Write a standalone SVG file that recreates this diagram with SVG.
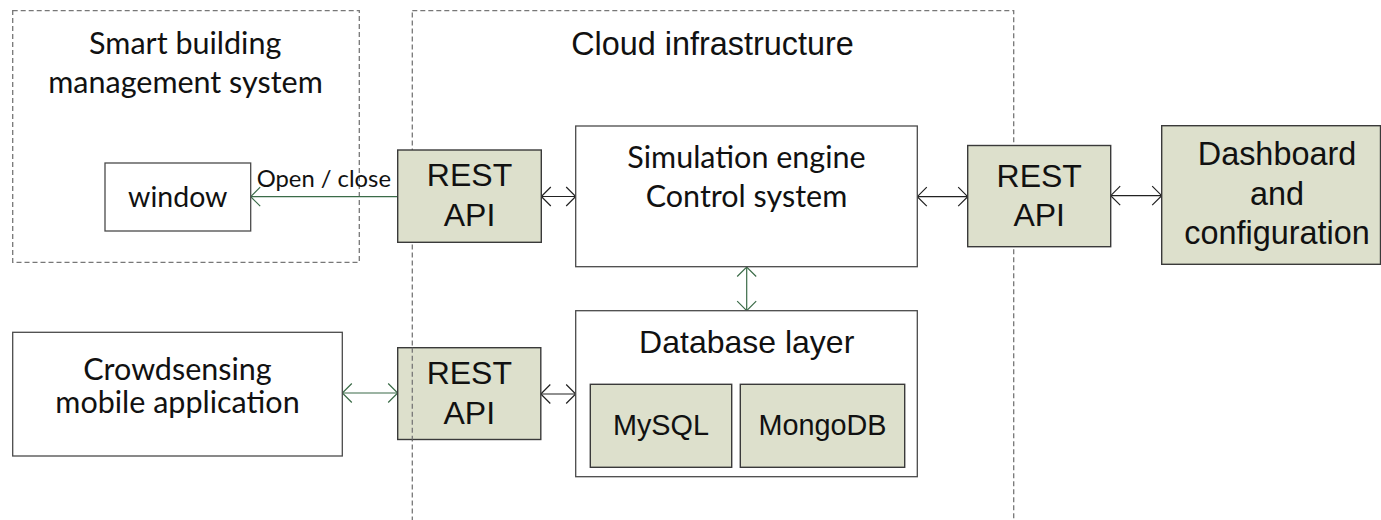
<svg xmlns="http://www.w3.org/2000/svg" width="1381" height="520" viewBox="0 0 1381 520">
  <style>
    .zone { fill: none; stroke: #777; stroke-width: 1.3; stroke-dasharray: 5 3; }
    .box { fill: #ffffff; stroke: #4a4a4a; stroke-width: 1.3; }
    .api { fill: #dde0cc; stroke: #3a3a3a; stroke-width: 1.4; }
    .cal { font-family: Lato, Carlito, "Liberation Sans", sans-serif; fill: #111; text-anchor: middle; }
    .ari { font-family: "Liberation Sans", Arial, sans-serif; fill: #111; text-anchor: middle; }
    .k { stroke: #222; stroke-width: 1.2; fill: none; }
    .g { stroke: #3b6b48; stroke-width: 1.2; fill: none; }
  </style>
  <defs>
    <marker id="chev-k" markerUnits="userSpaceOnUse" markerWidth="24" markerHeight="24" refX="0" refY="0" viewBox="-12 -12 24 24" orient="auto-start-reverse" overflow="visible">
      <path d="M-9.5,-9.5 L0,0 L-9.5,9.5" fill="none" stroke="#222" stroke-width="1.2"/>
    </marker>
    <marker id="chev-g" markerUnits="userSpaceOnUse" markerWidth="24" markerHeight="24" refX="0" refY="0" viewBox="-12 -12 24 24" orient="auto-start-reverse" overflow="visible">
      <path d="M-9.5,-9.5 L0,0 L-9.5,9.5" fill="none" stroke="#3b6b48" stroke-width="1.2"/>
    </marker>
  </defs>
  <rect width="1381" height="520" fill="#ffffff"/>

  <!-- system boundaries -->
  <g id="smart-building">
    <rect class="zone" x="12.7" y="10.7" width="346.6" height="251.6"/>
    <text class="cal" font-size="30.5" x="185.2" y="53.5">Smart building</text>
    <text class="cal" font-size="30.5" x="185.5" y="92.5">management system</text>
  </g>
  <g id="cloud">
    <rect class="zone" x="412.3" y="10.7" width="601.4" height="530"/>
    <text class="ari" font-size="32.4" x="712.5" y="55">Cloud infrastructure</text>
  </g>

  <!-- connectors -->
  <g id="connectors">
    <line class="g" x1="397.7" y1="196.7" x2="250.7" y2="196.7" marker-end="url(#chev-g)"/>
    <line class="k" x1="541.3" y1="196.5" x2="575.7" y2="196.5" marker-start="url(#chev-k)" marker-end="url(#chev-k)"/>
    <line class="k" x1="917.3" y1="196.7" x2="967.7" y2="196.7" marker-start="url(#chev-k)" marker-end="url(#chev-k)"/>
    <line class="k" x1="1110.7" y1="195.7" x2="1161.7" y2="195.7" marker-start="url(#chev-k)" marker-end="url(#chev-k)"/>
    <line class="g" x1="746.7" y1="267" x2="746.7" y2="310.7" marker-start="url(#chev-g)" marker-end="url(#chev-g)"/>
    <line class="g" x1="342.3" y1="393" x2="397.7" y2="393" marker-start="url(#chev-g)" marker-end="url(#chev-g)"/>
    <line class="k" x1="540.8" y1="394" x2="575.7" y2="394" marker-start="url(#chev-k)" marker-end="url(#chev-k)"/>
  </g>

  <g id="window">
    <rect class="box" x="105" y="163" width="145.7" height="68"/>
    <text class="cal" font-size="28.5" x="177.8" y="207">window</text>
  </g>
  <text class="cal" font-size="23.8" x="256.7" y="186.7" style="text-anchor:start">Open / close</text>

  <g id="rest-api-building">
    <rect class="api" x="397.7" y="150" width="143.6" height="92.3"/>
    <text class="ari" font-size="32" x="469.5" y="186">REST</text>
    <text class="ari" font-size="32" x="469.5" y="226">API</text>
  </g>

  <g id="simulation-engine">
    <rect class="box" x="575.7" y="126" width="341.6" height="140.7"/>
    <text class="cal" font-size="30.5" x="746.5" y="167.5">Simulation engine</text>
    <text class="cal" font-size="30.5" x="746.5" y="207">Control system</text>
  </g>

  <g id="rest-api-dashboard">
    <rect class="api" x="967.7" y="145.5" width="143" height="101.2"/>
    <text class="ari" font-size="32" x="1039.2" y="187.3">REST</text>
    <text class="ari" font-size="32" x="1039.2" y="226">API</text>
  </g>

  <g id="dashboard">
    <rect class="api" x="1161.7" y="125.7" width="218.8" height="138.6"/>
    <text class="ari" font-size="32.4" x="1277" y="165">Dashboard</text>
    <text class="ari" font-size="32.4" x="1277" y="204.5">and</text>
    <text class="ari" font-size="32.4" x="1277" y="243.5">configuration</text>
  </g>

  <g id="crowdsensing-app">
    <rect class="box" x="12.7" y="332.3" width="329.6" height="123.7"/>
    <text class="cal" font-size="30.5" x="177.5" y="379.5">Crowdsensing</text>
    <text class="cal" font-size="30.5" x="177.5" y="412.5">mobile application</text>
  </g>

  <g id="rest-api-mobile">
    <rect class="api" x="397.7" y="347.7" width="143.1" height="91.8"/>
    <!-- boundary line stays visible across this box -->
    <line class="zone" x1="412.3" y1="347.7" x2="412.3" y2="439.5"/>
    <text class="ari" font-size="32" x="469.3" y="384">REST</text>
    <text class="ari" font-size="32" x="469.3" y="424">API</text>
  </g>

  <g id="database-layer">
    <rect class="box" x="575.7" y="310.7" width="341.6" height="166" stroke="#666"/>
    <text class="ari" font-size="32" x="746.7" y="353">Database layer</text>
  </g>
  <g id="mysql">
    <rect class="api" x="590.3" y="384.3" width="141.4" height="83"/>
    <text class="ari" font-size="28.8" x="661" y="435.3">MySQL</text>
  </g>
  <g id="mongodb">
    <rect class="api" x="740.3" y="384.3" width="164.4" height="83"/>
    <text class="ari" font-size="28.8" x="822.5" y="435.3">MongoDB</text>
  </g>
</svg>
